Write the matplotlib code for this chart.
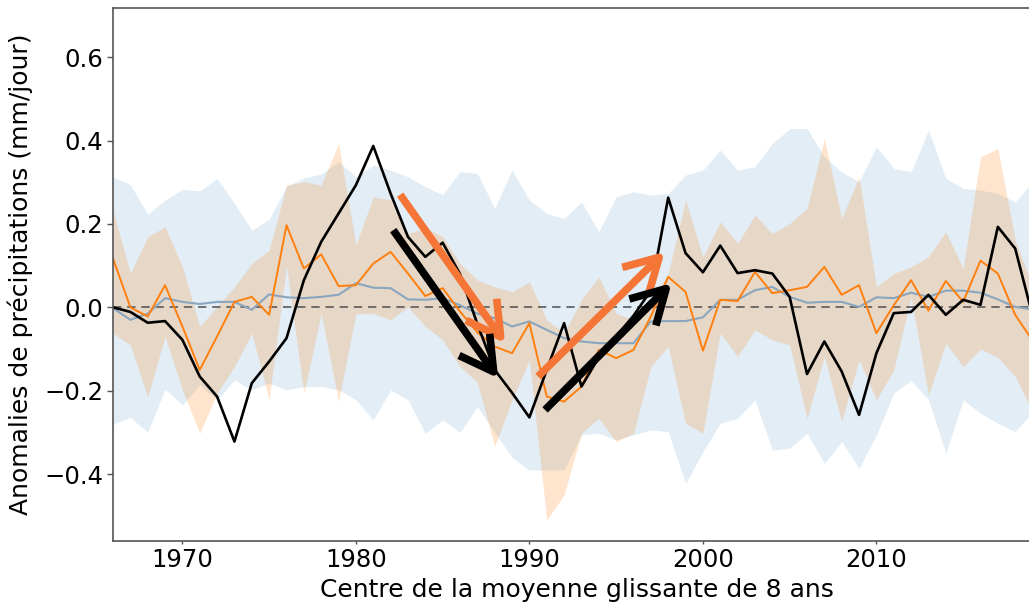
import numpy as np
import matplotlib
matplotlib.use("Agg")
import matplotlib.pyplot as plt

# Years: centre of the 8-year running mean
years = np.arange(1966, 2020)

# Observed anomaly (black)
obs = [0.0, -0.011, -0.037, -0.033, -0.078, -0.166, -0.214, -0.322, -0.182, -0.13,
       -0.074, 0.065, 0.157, 0.225, 0.293, 0.387, 0.273, 0.169, 0.121, 0.155,
       0.08, -0.04, -0.15, -0.205, -0.264, -0.15, -0.038, -0.19, -0.12, -0.07,
       -0.02, 0.04, 0.263, 0.13, 0.084, 0.148, 0.082, 0.089, 0.081, 0.025,
       -0.16, -0.082, -0.154, -0.258, -0.11, -0.014, -0.011, 0.03, -0.018, 0.018,
       0.006, 0.193, 0.141, -0.02]

# Ensemble 1 (orange): mean and spread
ens1_mean = [0.117, 0.0, -0.022, 0.053, -0.046, -0.15, -0.07, 0.013, 0.025, -0.018,
             0.197, 0.093, 0.127, 0.051, 0.053, 0.105, 0.133, 0.081, 0.027, 0.046,
             -0.01, -0.06, -0.094, -0.11, -0.038, -0.214, -0.226, -0.19, -0.102, -0.122,
             -0.102, -0.022, 0.073, 0.037, -0.104, 0.018, 0.015, 0.085, 0.034, 0.041,
             0.049, 0.097, 0.03, 0.053, -0.062, 0.005, 0.065, -0.008, 0.063, 0.013,
             0.112, 0.081, -0.018, -0.08]
ens1_high = [0.233, 0.081, 0.169, 0.193, 0.097, -0.046, 0.001, 0.049, 0.105, 0.137,
             0.293, 0.301, 0.293, 0.393, 0.149, 0.265, 0.257, 0.177, 0.19, 0.17,
             0.105, 0.065, 0.049, 0.037, 0.061, -0.03, -0.062, 0.018, 0.073, -0.015,
             -0.03, 0.018, 0.081, 0.257, 0.12, 0.205, 0.153, 0.221, 0.177, 0.201,
             0.237, 0.405, 0.213, 0.313, 0.049, 0.081, 0.097, 0.121, 0.181, 0.093,
             0.361, 0.381, 0.161, 0.05]
ens1_low = [-0.062, -0.09, -0.214, -0.07, -0.198, -0.302, -0.206, -0.142, -0.062, -0.222,
            0.1, -0.206, -0.015, -0.226, -0.015, -0.015, -0.03, 0.001, -0.046, -0.078,
            -0.142, -0.18, -0.334, -0.222, -0.126, -0.51, -0.45, -0.302, -0.266, -0.322,
            -0.302, -0.142, -0.094, -0.278, -0.302, -0.062, -0.118, -0.054, -0.078, -0.09,
            -0.266, -0.118, -0.274, -0.126, -0.222, -0.15, 0.025, -0.21, -0.086, -0.142,
            -0.1, -0.12, -0.166, -0.25]

# Ensemble 2 (blue): mean and spread
ens2_mean = [-0.002, -0.03, -0.015, 0.022, 0.013, 0.008, 0.013, 0.013, -0.006, 0.031,
             0.024, 0.022, 0.025, 0.03, 0.058, 0.047, 0.046, 0.019, 0.018, 0.022,
             0.005, -0.015, -0.026, -0.046, -0.034, -0.054, -0.074, -0.082, -0.086, -0.086,
             -0.086, -0.034, -0.033, -0.033, -0.024, 0.018, 0.018, 0.041, 0.049, 0.025,
             0.011, 0.013, 0.013, 0.001, 0.024, 0.022, 0.035, 0.025, 0.04, 0.04,
             0.035, 0.019, 0.001, -0.005]
ens2_high = [0.313, 0.294, 0.223, 0.257, 0.283, 0.279, 0.309, 0.249, 0.185, 0.211,
             0.29, 0.31, 0.32, 0.349, 0.313, 0.341, 0.329, 0.313, 0.289, 0.27,
             0.325, 0.321, 0.237, 0.329, 0.257, 0.225, 0.213, 0.253, 0.181, 0.265,
             0.277, 0.269, 0.273, 0.317, 0.329, 0.377, 0.329, 0.337, 0.393, 0.428,
             0.429, 0.361, 0.325, 0.301, 0.385, 0.333, 0.325, 0.425, 0.309, 0.285,
             0.281, 0.273, 0.253, 0.3]
ens2_low = [-0.28, -0.264, -0.3, -0.196, -0.234, -0.186, -0.222, -0.174, -0.198, -0.182,
            -0.198, -0.19, -0.19, -0.198, -0.222, -0.27, -0.198, -0.222, -0.302, -0.27,
            -0.3, -0.238, -0.3, -0.36, -0.39, -0.39, -0.39, -0.306, -0.302, -0.318,
            -0.306, -0.294, -0.298, -0.422, -0.346, -0.278, -0.266, -0.222, -0.342, -0.338,
            -0.302, -0.374, -0.322, -0.386, -0.306, -0.206, -0.175, -0.222, -0.35, -0.222,
            -0.254, -0.278, -0.298, -0.25]

yticks = [-0.4, -0.2, 0.0, 0.2, 0.4, 0.6]
xticks = [1970, 1980, 1990, 2000, 2010]

plt.rcParams['font.family'] = ['DejaVu Sans']

W, H = 1029, 603
fig = plt.figure(figsize=(W / 100, H / 100), dpi=100)
ax = fig.add_axes([113 / W, (H - 540.7) / H, (1040 - 113) / W, (540.7 - 7.5) / H])

blue = '#1f77b4'
orange = '#ff7f0e'

ax.fill_between(years, ens2_low, ens2_high, color=blue, alpha=0.13, lw=0)
ax.fill_between(years, ens1_low, ens1_high, color=orange, alpha=0.2, lw=0)
ax.axhline(0, color='#5a5a5a', ls=(0, (5, 3.5)), lw=1.2)
ax.plot(years, ens2_mean, color='#8aa6bf', lw=1.5)
ax.plot(years, ens1_mean, color=orange, lw=1.4)
ax.plot(years, obs, color='black', lw=1.9)

# Trend arrows
def arrow(start, end, color):
    ax.annotate('', xy=end, xytext=start,
                arrowprops=dict(arrowstyle='->,head_length=2.4,head_width=1.35',
                                lw=5.5, color=color, shrinkA=0, shrinkB=0,
                                mutation_scale=10, capstyle='butt'))

arrow_orange = '#f47535'
arrow((1982.55, 0.27), (1988.6, -0.086), arrow_orange)
arrow((1982.15, 0.185), (1988.2, -0.170), 'black')
arrow((1990.5, -0.166), (1997.8, 0.133), arrow_orange)
arrow((1990.9, -0.246), (1998.2, 0.058), 'black')

ax.set_xlim(1966.0, 1966.0 + (1040 - 113) / 17.35)
ax.set_ylim(-0.5597, 0.719)
ax.set_xticks(xticks)
ax.set_yticks(yticks)
ax.set_yticklabels([f"{t:.1f}".replace('-', '\u2212') for t in yticks])
ax.tick_params(labelsize=17.5, width=1, color='#555555')
ax.tick_params(axis='x', length=2.5, pad=3)
ax.tick_params(axis='y', length=4, pad=3)
ax.spines['right'].set_visible(False)
for s in ('left', 'bottom', 'top'):
    ax.spines[s].set_color('#555555')
    ax.spines[s].set_linewidth(1.2)

ax.set_xlabel('Centre de la moyenne glissante de 8 ans', fontsize=18, labelpad=4)
ax.set_ylabel('Anomalies de précipitations (mm/jour)', fontsize=18, labelpad=8)

fig.savefig('out.png', dpi=100)
